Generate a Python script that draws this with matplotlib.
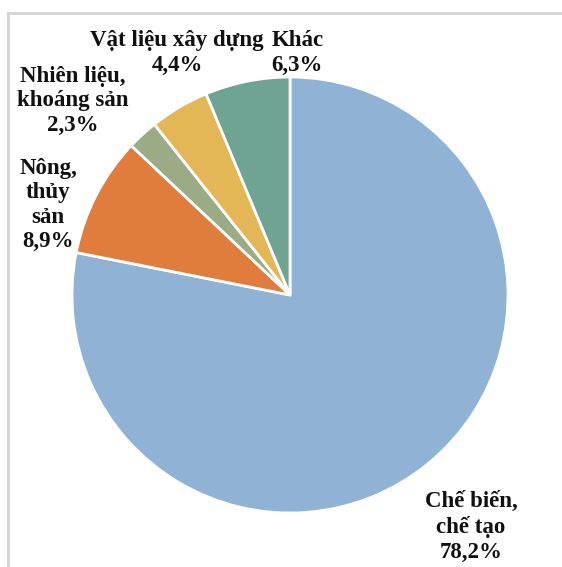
import matplotlib.pyplot as plt
from matplotlib.lines import Line2D

# data
categories = ["Chế biến,\nchế tạo", "Nông,\nthủy\nsản", "Nhiên liệu,\nkhoáng sản",
              "Vật liệu xây dựng", "Khác"]
shares = [78.2, 8.9, 2.3, 4.4, 6.3]
colors = ["#8FB2D5", "#E07C3C", "#9AAB85", "#E3B656", "#6FA393"]

# label centres (data units, pie radius = 1)
label_pos = [(0.83, -1.064), (-1.11, 0.413), (-0.995, 0.89), (-0.518, 1.11), (0.034, 1.11)]

W, H = 562, 567
cx, cy, r = 290, 567 - 295, 218  # pie centre / radius in pixels

fig = plt.figure(figsize=(W / 100, H / 100), dpi=100)
ax = fig.add_axes([0, 0, 1, 1])

ax.pie(shares, colors=colors, startangle=90, counterclock=False,
       wedgeprops={'edgecolor': 'white', 'linewidth': 2})

ax.set_xlim(-cx / r, (W - cx) / r)
ax.set_ylim(-cy / r, (H - cy) / r)
ax.set_aspect('auto')
ax.axis('off')

for name, val, (x, y) in zip(categories, shares, label_pos):
    txt = name + "\n" + f"{val:.1f}%".replace('.', ',')
    ax.text(x, y, txt, ha='center', va='center', fontsize=16.5, fontweight='bold',
            family='Liberation Serif', color='#111111', linespacing=1.22)

# light frame at left and top
fig.add_artist(Line2D([8 / W, 8 / W], [0, 1 - 13 / H], transform=fig.transFigure,
                      color='#D4D4D4', linewidth=2))
fig.add_artist(Line2D([8 / W, 1], [1 - 13 / H, 1 - 13 / H], transform=fig.transFigure,
                      color='#D4D4D4', linewidth=2))

fig.savefig("out.png", dpi=100)
